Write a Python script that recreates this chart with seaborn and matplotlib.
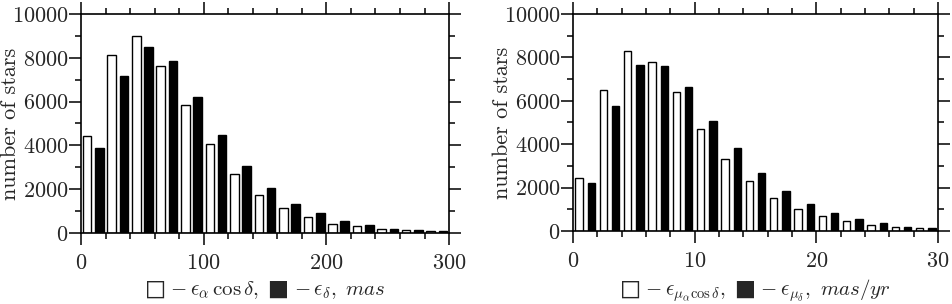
import matplotlib
matplotlib.use("Agg")
import matplotlib.pyplot as plt
from matplotlib.ticker import MultipleLocator
import numpy as np
import pandas as pd
import seaborn as sns

# bin centres (positional errors in mas, proper motion errors in mas/yr)
pos_white_x = np.arange(5, 300, 20)
pos_black_x = np.arange(15, 300, 20)
pm_white_x = np.arange(0.5, 30, 2)
pm_black_x = np.arange(1.5, 30, 2)

# number of stars
pos_ra = [4440, 8120, 8990, 7640, 5850, 4050, 2680, 1720, 1160, 750, 430, 320, 180, 120, 80]
pos_dec = [3870, 7160, 8490, 7850, 6200, 4470, 3050, 2070, 1310, 900, 560, 350, 170, 120, 80]
pm_ra = [2460, 6510, 8290, 7800, 6420, 4720, 3310, 2310, 1520, 1020, 690, 460, 280, 180, 120]
pm_dec = [2230, 5740, 7630, 7580, 6620, 5090, 3820, 2650, 1830, 1260, 850, 550, 350, 200, 150]

sns.set_style("ticks")
plt.rcParams["font.family"] = ["cmr10", "DejaVu Serif"]
plt.rcParams["axes.formatter.use_mathtext"] = True
plt.rcParams["mathtext.fontset"] = "cm"
plt.rcParams["axes.unicode_minus"] = False


def make_frame(wx, wy, bx, by):
    return pd.DataFrame({
        "x": list(wx) + list(bx),
        "count": list(wy) + list(by),
        "kind": ["white"] * len(wx) + ["black"] * len(bx),
    })


def style_axes(ax, xmax, xmajor, xminor, xlabel):
    ax.set_xlim(0, xmax)
    ax.set_ylim(0, 10000)
    ax.xaxis.set_major_locator(MultipleLocator(xmajor))
    ax.xaxis.set_minor_locator(MultipleLocator(xminor))
    ax.yaxis.set_major_locator(MultipleLocator(2000))
    ax.yaxis.set_minor_locator(MultipleLocator(1000))
    ax.tick_params(which="both", direction="out", top=True, right=True,
                   width=1.1, color="black", labelsize=16)
    ax.tick_params(which="major", length=8.5)
    ax.tick_params(which="minor", length=4.5)
    ax.tick_params(axis="x", pad=6)
    ax.tick_params(axis="y", pad=0.5)
    for s in ax.spines.values():
        s.set_linewidth(1.2)
        s.set_color("black")
    ax.set_ylabel("number of stars", fontsize=16)
    ax.set_xlabel(xlabel, fontsize=15)
    ax.yaxis.set_label_coords(-0.166, 0.5)
    ax.xaxis.set_label_coords(0.5, -0.21)


fig = plt.figure(figsize=(9.52, 3.04), dpi=100)
ax1 = fig.add_axes([0.0851, 0.2336, 0.3866, 0.7204])
ax2 = fig.add_axes([0.6019, 0.2401, 0.3834, 0.7140])

palette = {"white": "white", "black": "black"}

df1 = make_frame(pos_white_x, pos_ra, pos_black_x, pos_dec)
sns.barplot(data=df1, x="x", y="count", hue="kind", palette=palette,
            native_scale=True, dodge=False, width=0.7, saturation=1,
            edgecolor="black", linewidth=1.0, errorbar=None, legend=False, ax=ax1)
style_axes(ax1, 300, 100, 20,
           "$\u25a1\\, - \\epsilon_\\alpha\\,\\cos\\delta,\\ \u25a0\\, - \\epsilon_\\delta,\\ mas$")

df2 = make_frame(pm_white_x, pm_ra, pm_black_x, pm_dec)
sns.barplot(data=df2, x="x", y="count", hue="kind", palette=palette,
            native_scale=True, dodge=False, width=0.6, saturation=1,
            edgecolor="black", linewidth=1.0, errorbar=None, legend=False, ax=ax2)
style_axes(ax2, 30, 10, 2,
           "$\u25a1\\, - \\epsilon_{\\mu_\\alpha\\cos\\delta},\\ \u25a0\\, - \\epsilon_{\\mu_\\delta},\\ mas/yr$")
ax2.yaxis.set_label_coords(-0.168, 0.5)
ax2.xaxis.set_label_coords(0.5, -0.212)

fig.savefig("out.png", dpi=100)
